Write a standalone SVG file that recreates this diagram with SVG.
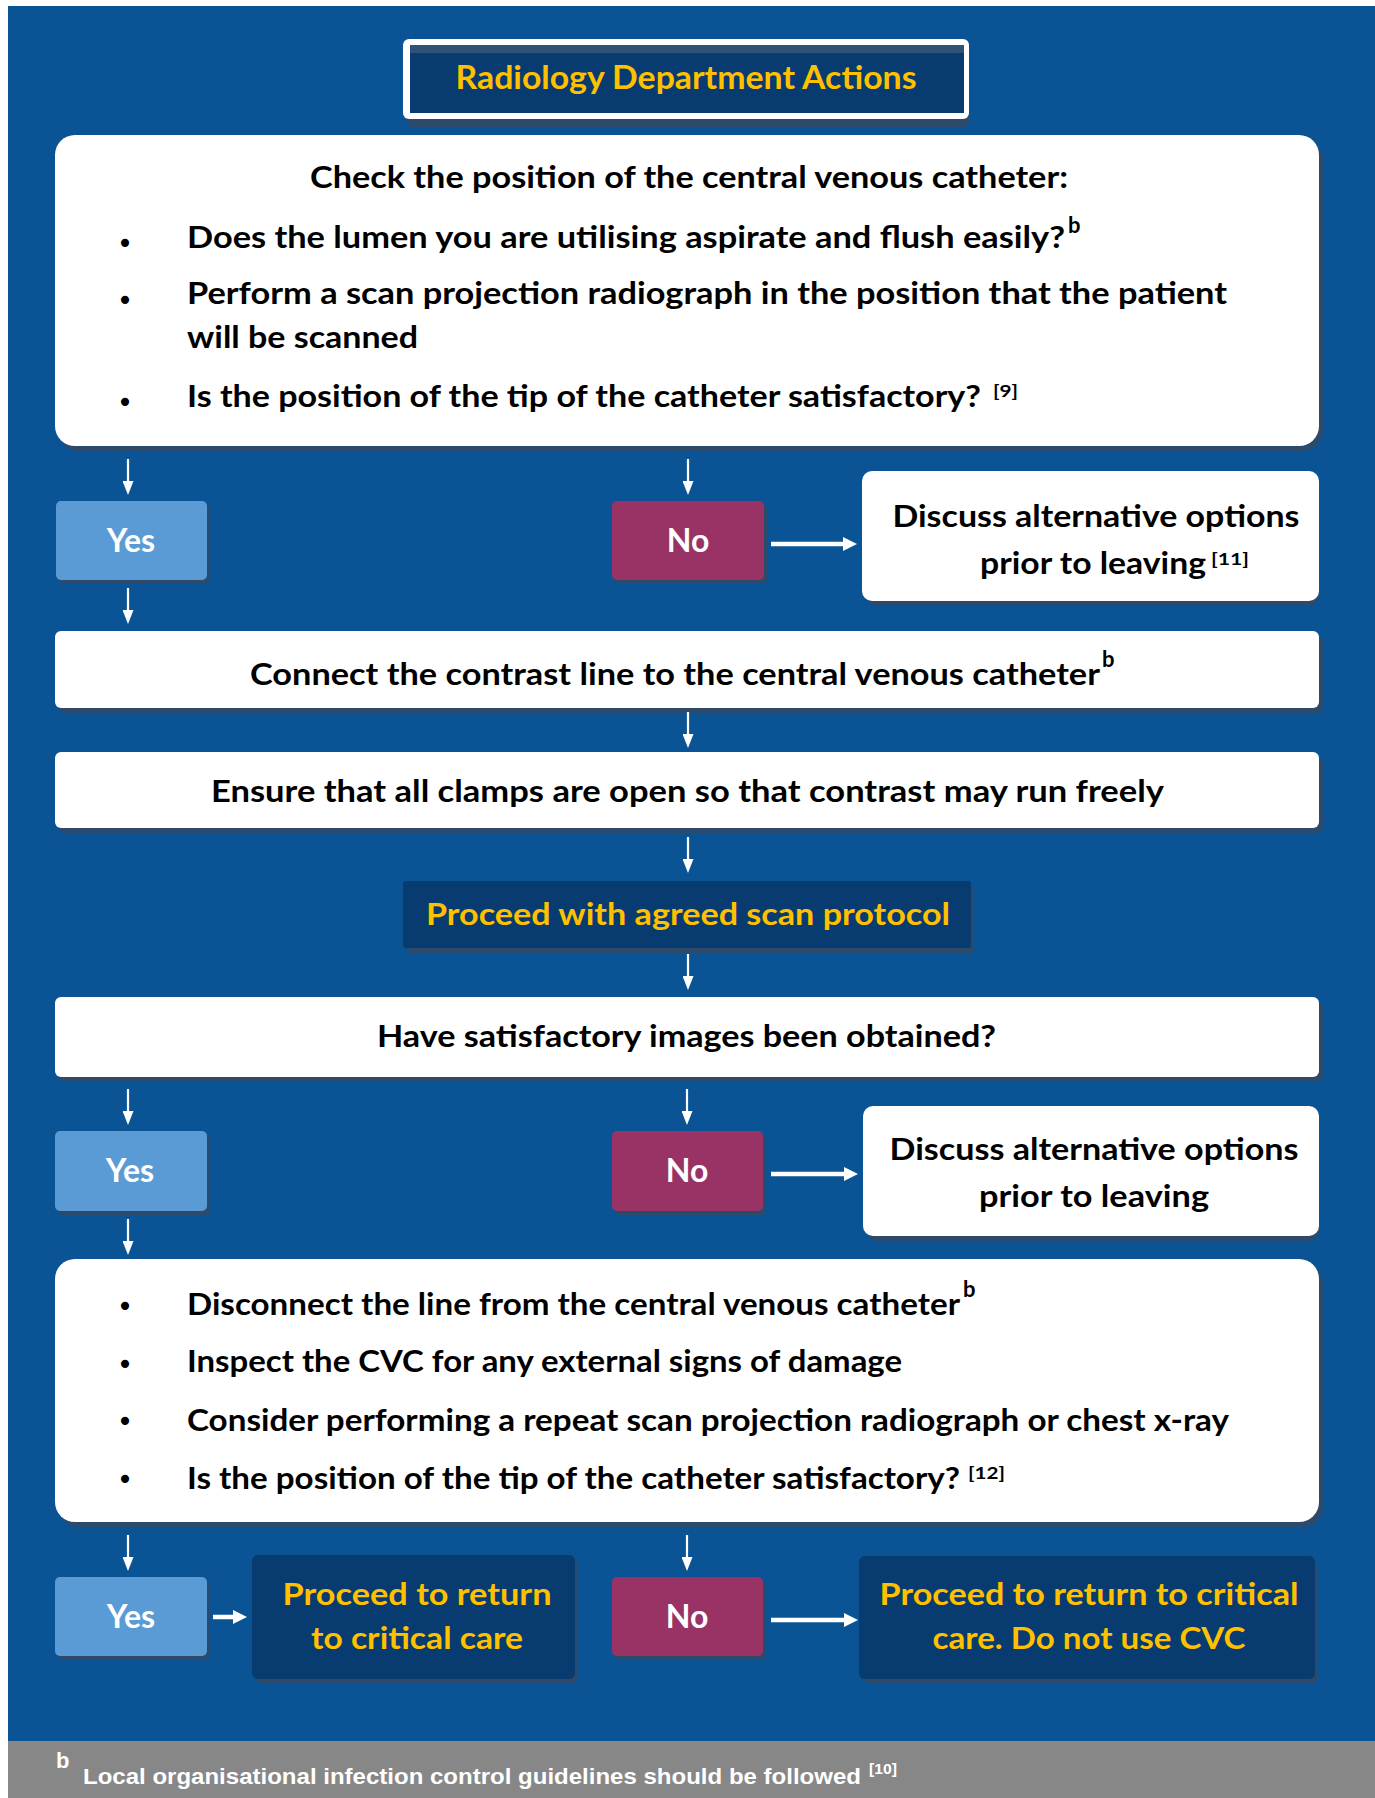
<svg xmlns="http://www.w3.org/2000/svg" width="1375" height="1798" viewBox="0 0 1375 1798">
<defs>
<style>
.t{font-family:Lato,"Open Sans","Liberation Sans",sans-serif;font-weight:bold;font-size:30px;fill:#000}
.y{fill:#FFC000}
.w{fill:#fff}
.c{text-anchor:middle}
.yn{font-size:32px}
.sup{font-family:Lato,"Open Sans","Liberation Sans",sans-serif;font-weight:bold;font-size:22px;fill:#000}
.ref{font-family:Lato,"Open Sans","Liberation Sans",sans-serif;font-weight:bold;font-size:17px;fill:#000}
.bul{font-family:"DejaVu Sans",sans-serif;font-size:28px;fill:#000;text-anchor:middle}
.sh{fill:#2c4a6c}
.box{fill:#fff}
.yes{fill:#5B9BD5}
.no{fill:#993366}
.navy{fill:#083B6F}
.ln{stroke:#fff;stroke-width:2.2;fill:none}
.lnh{stroke:#fff;stroke-width:4.5;fill:none}
.foot{font-family:"Liberation Sans",Arial,sans-serif;font-weight:bold;fill:#fff}
</style>
<marker id="av" markerUnits="userSpaceOnUse" viewBox="0 0 14 11" markerWidth="14" markerHeight="11" refX="6" refY="5.5" orient="auto">
<path d="M0,0 L14,5.5 L0,11 z" fill="#fff"/>
</marker>
<marker id="ah" markerUnits="userSpaceOnUse" viewBox="0 0 14 14" markerWidth="14" markerHeight="14" refX="6" refY="7" orient="auto">
<path d="M0,0 L14,7 L0,14 z" fill="#fff"/>
</marker>
</defs>

<rect x="0" y="0" width="1375" height="1798" fill="#fff"/>
<rect x="8" y="6" width="1367" height="1736" fill="#0A5495"/>
<rect x="8" y="1741" width="1367" height="57" fill="#878787"/>

<g id="title">
<rect class="sh" x="407" y="46" width="562" height="81" rx="5"/>
<rect fill="#fff" x="403" y="39" width="566" height="80" rx="6"/>
<rect class="navy" x="410" y="45" width="554" height="68"/>
<rect fill="#2f5276" x="410" y="45" width="554" height="8"/>
<text class="t y c" x="686" y="89" style="font-size:32px" textLength="461" lengthAdjust="spacingAndGlyphs">Radiology Department Actions</text>
</g>

<g id="check">
<rect class="sh" x="59" y="140" width="1264" height="311" rx="20"/>
<rect class="box" x="55" y="135" width="1264" height="311" rx="20"/>
<text class="t c" x="689" y="188" textLength="758" lengthAdjust="spacingAndGlyphs">Check the position of the central venous catheter:</text>
<text class="bul" x="125" y="253">•</text>
<text class="t" x="187" y="248" textLength="878" lengthAdjust="spacingAndGlyphs">Does the lumen you are utilising aspirate and flush easily?</text>
<text class="sup" x="1068" y="233">b</text>
<text class="bul" x="125" y="310">•</text>
<text class="t" x="187" y="304" textLength="1040" lengthAdjust="spacingAndGlyphs">Perform a scan projection radiograph in the position that the patient</text>
<text class="t" x="187" y="348" textLength="231" lengthAdjust="spacingAndGlyphs">will be scanned</text>
<text class="bul" x="125" y="412">•</text>
<text class="t" x="187" y="407" textLength="794" lengthAdjust="spacingAndGlyphs">Is the position of the tip of the catheter satisfactory?</text>
<text class="ref" x="993" y="397" textLength="25" lengthAdjust="spacingAndGlyphs">[9]</text>
</g>

<g id="yes1">
<rect class="sh" x="59" y="505" width="151" height="79" rx="5"/>
<rect class="yes" x="56" y="501" width="151" height="79" rx="5"/>
<text class="t w c yn" x="131" y="552">Yes</text>
</g>
<g id="no1">
<rect class="sh" x="615" y="505" width="152" height="79" rx="5"/>
<rect class="no" x="612" y="501" width="152" height="79" rx="5"/>
<text class="t w c yn" x="688" y="552">No</text>
</g>
<g id="discuss1">
<rect class="sh" x="866" y="476" width="453" height="130" rx="10"/>
<rect class="box" x="862" y="471" width="457" height="130" rx="10"/>
<text class="t c" x="1096" y="527" textLength="407" lengthAdjust="spacingAndGlyphs">Discuss alternative options</text>
<text class="t" x="980" y="574" textLength="226" lengthAdjust="spacingAndGlyphs">prior to leaving</text>
<text class="ref" x="1211" y="565" textLength="38" lengthAdjust="spacingAndGlyphs">[11]</text>
</g>

<g id="connect">
<rect class="sh" x="59" y="636" width="1264" height="77" rx="6"/>
<rect class="box" x="55" y="631" width="1264" height="77" rx="6"/>
<text class="t" x="250" y="685" textLength="850" lengthAdjust="spacingAndGlyphs">Connect the contrast line to the central venous catheter</text>
<text class="sup" x="1102" y="667">b</text>
</g>

<g id="ensure">
<rect class="sh" x="59" y="757" width="1264" height="76" rx="6"/>
<rect class="box" x="55" y="752" width="1264" height="76" rx="6"/>
<text class="t" x="211" y="802" textLength="953" lengthAdjust="spacingAndGlyphs">Ensure that all clamps are open so that contrast may run freely</text>
</g>

<g id="proceed">
<rect class="sh" x="407" y="886" width="567" height="67" rx="3"/>
<rect class="navy" x="403" y="881" width="568" height="67" rx="3"/>
<text class="t y" x="426" y="925" textLength="524" lengthAdjust="spacingAndGlyphs">Proceed with agreed scan protocol</text>
</g>

<g id="have">
<rect class="sh" x="59" y="1002" width="1264" height="80" rx="6"/>
<rect class="box" x="55" y="997" width="1264" height="80" rx="6"/>
<text class="t" x="377" y="1047" textLength="619" lengthAdjust="spacingAndGlyphs">Have satisfactory images been obtained?</text>
</g>

<g id="yes2">
<rect class="sh" x="58" y="1135" width="152" height="80" rx="5"/>
<rect class="yes" x="55" y="1131" width="152" height="80" rx="5"/>
<text class="t w c yn" x="130" y="1182">Yes</text>
</g>
<g id="no2">
<rect class="sh" x="615" y="1135" width="151" height="80" rx="5"/>
<rect class="no" x="612" y="1131" width="151" height="80" rx="5"/>
<text class="t w c yn" x="687" y="1182">No</text>
</g>
<g id="discuss2">
<rect class="sh" x="867" y="1111" width="452" height="130" rx="10"/>
<rect class="box" x="863" y="1106" width="456" height="130" rx="10"/>
<text class="t c" x="1094" y="1160" textLength="409" lengthAdjust="spacingAndGlyphs">Discuss alternative options</text>
<text class="t c" x="1094" y="1207" textLength="230" lengthAdjust="spacingAndGlyphs">prior to leaving</text>
</g>

<g id="disconnect">
<rect class="sh" x="59" y="1264" width="1264" height="263" rx="20"/>
<rect class="box" x="55" y="1259" width="1264" height="263" rx="20"/>
<text class="bul" x="125" y="1316">•</text>
<text class="t" x="187" y="1315" textLength="773" lengthAdjust="spacingAndGlyphs">Disconnect the line from the central venous catheter</text>
<text class="sup" x="963" y="1297">b</text>
<text class="bul" x="125" y="1374">•</text>
<text class="t" x="187" y="1372" textLength="715" lengthAdjust="spacingAndGlyphs">Inspect the CVC for any external signs of damage</text>
<text class="bul" x="125" y="1431">•</text>
<text class="t" x="187" y="1431" textLength="1042" lengthAdjust="spacingAndGlyphs">Consider performing a repeat scan projection radiograph or chest x-ray</text>
<text class="bul" x="125" y="1489">•</text>
<text class="t" x="187" y="1489" textLength="773" lengthAdjust="spacingAndGlyphs">Is the position of the tip of the catheter satisfactory?</text>
<text class="ref" x="968" y="1479" textLength="37" lengthAdjust="spacingAndGlyphs">[12]</text>
</g>

<g id="yes3">
<rect class="sh" x="58" y="1581" width="152" height="79" rx="5"/>
<rect class="yes" x="55" y="1577" width="152" height="79" rx="5"/>
<text class="t w c yn" x="131" y="1628">Yes</text>
</g>
<g id="returnA">
<rect class="sh" x="256" y="1560" width="322" height="124" rx="6"/>
<rect class="navy" x="252" y="1555" width="323" height="124" rx="6"/>
<text class="t y c" x="417" y="1605" textLength="269" lengthAdjust="spacingAndGlyphs">Proceed to return</text>
<text class="t y c" x="417" y="1649" textLength="212" lengthAdjust="spacingAndGlyphs">to critical care</text>
</g>
<g id="no3">
<rect class="sh" x="615" y="1581" width="151" height="79" rx="5"/>
<rect class="no" x="612" y="1577" width="151" height="79" rx="5"/>
<text class="t w c yn" x="687" y="1628">No</text>
</g>
<g id="returnB">
<rect class="sh" x="864" y="1561" width="453" height="123" rx="6"/>
<rect class="navy" x="859" y="1556" width="456" height="123" rx="6"/>
<text class="t y c" x="1089" y="1605" textLength="419" lengthAdjust="spacingAndGlyphs">Proceed to return to critical</text>
<text class="t y c" x="1089" y="1649" textLength="313" lengthAdjust="spacingAndGlyphs">care. Do not use CVC</text>
</g>

<g id="connectors">
<line class="ln" x1="128" y1="459" x2="128" y2="487" marker-end="url(#av)"/>
<line class="ln" x1="688" y1="459" x2="688" y2="487" marker-end="url(#av)"/>
<line class="lnh" x1="771" y1="544" x2="849" y2="544" marker-end="url(#ah)"/>
<line class="ln" x1="128" y1="588" x2="128" y2="616" marker-end="url(#av)"/>
<line class="ln" x1="688" y1="712" x2="688" y2="740" marker-end="url(#av)"/>
<line class="ln" x1="688" y1="837" x2="688" y2="865" marker-end="url(#av)"/>
<line class="ln" x1="688" y1="954" x2="688" y2="982" marker-end="url(#av)"/>
<line class="ln" x1="128" y1="1089" x2="128" y2="1117" marker-end="url(#av)"/>
<line class="ln" x1="687" y1="1089" x2="687" y2="1117" marker-end="url(#av)"/>
<line class="lnh" x1="771" y1="1174" x2="850" y2="1174" marker-end="url(#ah)"/>
<line class="ln" x1="128" y1="1219" x2="128" y2="1247" marker-end="url(#av)"/>
<line class="ln" x1="128" y1="1535" x2="128" y2="1563" marker-end="url(#av)"/>
<line class="ln" x1="687" y1="1535" x2="687" y2="1563" marker-end="url(#av)"/>
<line class="lnh" x1="213" y1="1617" x2="239" y2="1617" marker-end="url(#ah)"/>
<line class="lnh" x1="771" y1="1620" x2="850" y2="1620" marker-end="url(#ah)"/>
</g>

<g id="footnote">
<text class="foot" x="56" y="1768" style="font-size:22px">b</text>
<text class="foot" x="83" y="1784" style="font-size:22.5px" textLength="778" lengthAdjust="spacingAndGlyphs">Local organisational infection control guidelines should be followed</text>
<text class="foot" x="869" y="1774" style="font-size:14px" textLength="28" lengthAdjust="spacingAndGlyphs">[10]</text>
</g>
</svg>
